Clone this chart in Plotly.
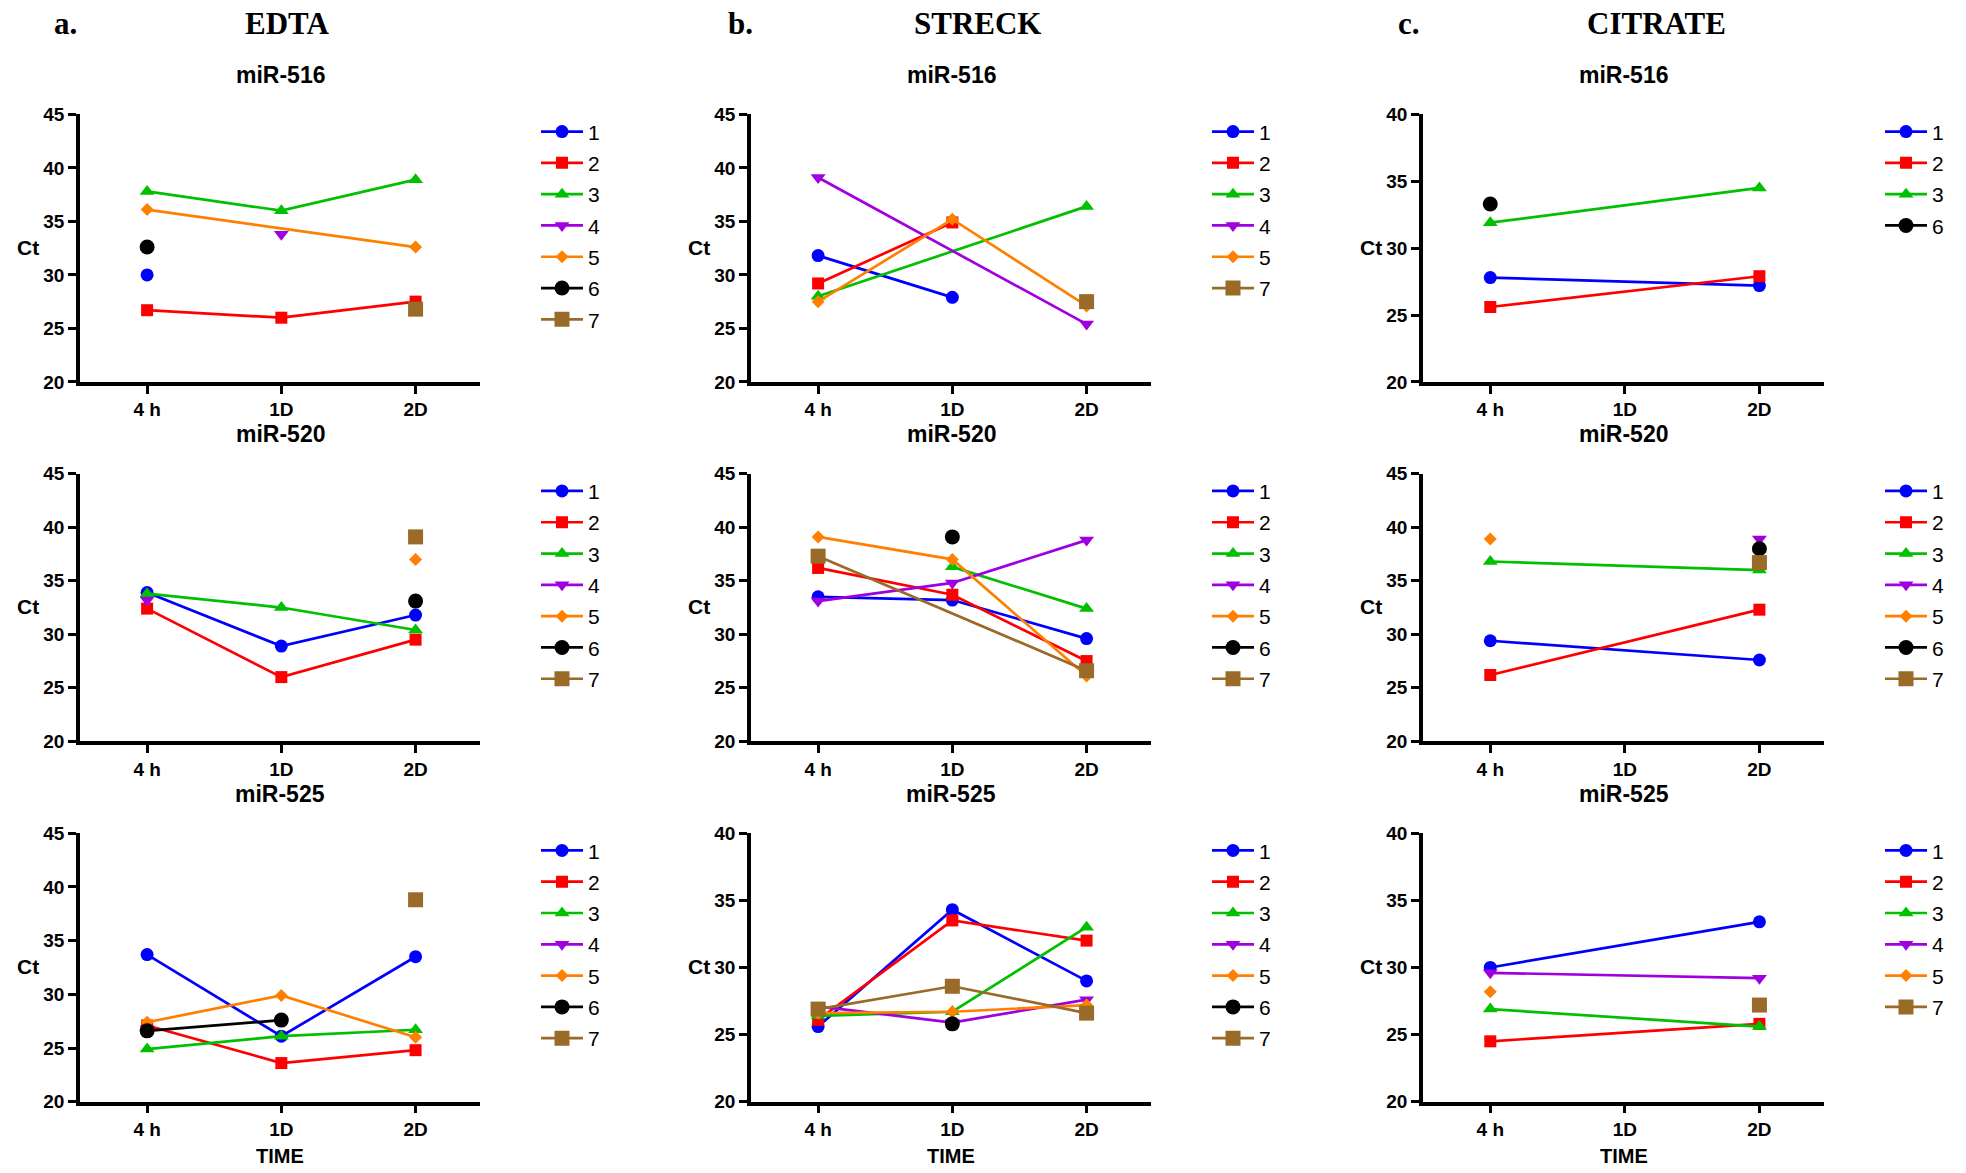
import plotly.graph_objects as go

# ---------------- data ----------------
time_labels = ["4 h", "1D", "2D"]
series_names = ["1", "2", "3", "4", "5", "6", "7"]
panel_groups = ["EDTA", "STRECK", "CITRATE"]
panel_letters = ["a.", "b.", "c."]
mirnas = ["miR-516", "miR-520", "miR-525"]

# EDTA
edta_516 = {"1": [30.0, None, None], "2": [26.7, 26.0, 27.5], "3": [37.8, 36.0, 38.9],
            "4": [None, 33.8, None], "5": [36.1, None, 32.6], "6": [32.6, None, None],
            "7": [None, None, 26.8]}
edta_520 = {"1": [33.9, 28.9, 31.8], "2": [32.4, 26.0, 29.5], "3": [33.8, 32.5, 30.4],
            "4": [33.2, None, None], "5": [None, None, 37.0], "6": [None, None, 33.1],
            "7": [None, None, 39.1]}
edta_525 = {"1": [33.7, 26.1, 33.5], "2": [27.1, 23.6, 24.8], "3": [24.9, 26.1, 26.7],
            "4": [26.8, None, None], "5": [27.4, 29.9, 26.0], "6": [26.6, 27.6, None],
            "7": [None, None, 38.8]}
# STRECK
streck_516 = {"1": [31.8, 27.9, None], "2": [29.2, 34.9, None], "3": [28.0, None, 36.4],
              "4": [39.1, None, 25.4], "5": [27.5, 35.2, 27.1], "7": [None, None, 27.5]}
streck_520 = {"1": [33.5, 33.2, 29.6], "2": [36.2, 33.7, 27.5], "3": [None, 36.3, 32.4],
              "4": [33.1, 34.8, 38.8], "5": [39.1, 37.0, 26.1], "6": [None, 39.1, None],
              "7": [37.3, None, 26.6]}
streck_525 = {"1": [25.6, 34.3, 29.0], "2": [26.1, 33.5, 32.0], "3": [26.4, 26.7, 33.0],
              "4": [27.1, 25.9, 27.6], "5": [26.6, 26.7, 27.2], "6": [None, 25.8, None],
              "7": [26.9, 28.6, 26.6]}
# CITRATE
citrate_516 = {"1": [27.8, None, 27.2], "2": [25.6, None, 27.9], "3": [31.9, None, 34.5],
               "6": [33.3, None, None]}
citrate_520 = {"1": [29.4, None, 27.6], "2": [26.2, None, 32.3], "3": [36.8, None, 36.0],
               "4": [None, None, 38.9], "5": [38.9, None, None], "6": [None, None, 38.0],
               "7": [None, None, 36.7]}
citrate_525 = {"1": [30.0, None, 33.4], "2": [24.5, None, 25.8], "3": [26.9, None, 25.6],
               "4": [29.6, None, 29.2], "5": [28.2, None, None], "7": [None, None, 27.2]}

# panel grid: rows = miRNA, cols = tube type
panels = [[edta_516, streck_516, citrate_516],
          [edta_520, streck_520, citrate_520],
          [edta_525, streck_525, citrate_525]]
y_max = [[45, 45, 40],
         [45, 45, 45],
         [45, 40, 40]]

# ---------------- styles ----------------
colors = {"1": "#0000FF", "2": "#FF0000", "3": "#00C000", "4": "#A000E0",
          "5": "#FF8000", "6": "#000000", "7": "#9A6A28"}
symbols = {"1": "circle", "2": "square", "3": "triangle-up", "4": "triangle-down",
           "5": "diamond", "6": "circle", "7": "square"}
msizes = {"1": 13, "2": 12, "3": 13, "4": 13, "5": 10, "6": 15, "7": 15}

W, H = 1966, 1173


def Y(p):
    # compensate the vertical placement observed in the rendered page
    return (p - 9.48) / 0.9837


col_px = [(80, 480), (751, 1151), (1423, 1824)]
row_px = [(Y(114), Y(382)), (Y(474), Y(742)), (Y(834), Y(1103))]

fig = go.Figure()
layout = dict(width=W, height=H, paper_bgcolor="white", plot_bgcolor="white",
              margin=dict(l=0, r=0, t=0, b=0), showlegend=True)
annotations = []
sans = "Liberation Sans, Arial, sans-serif"
serif = "Liberation Serif, DejaVu Serif, serif"

idx = 0
for r in range(3):
    for c in range(3):
        idx += 1
        sfx = "" if idx == 1 else str(idx)
        xa, ya = "x" + sfx, "y" + sfx
        leg = "legend" + sfx
        x0, x1 = col_px[c]
        y0, y1 = row_px[r]
        xd = [x0 / W, x1 / W]
        yd = [1 - y1 / H, 1 - y0 / H]
        data = panels[r][c]
        for name in series_names:
            if name not in data:
                continue
            fig.add_trace(go.Scatter(
                x=[0, 1, 2], y=data[name], name=name, mode="lines+markers",
                connectgaps=True, xaxis=xa, yaxis=ya, legend=leg,
                legendgroup="p%d_%s" % (idx, name),
                line=dict(color=colors[name], width=2.7),
                marker=dict(color=colors[name], symbol=symbols[name], size=msizes[name]),
                cliponaxis=False))
        layout["xaxis" + sfx] = dict(
            domain=xd, anchor=ya, range=[-0.5, 2.48], tickmode="array",
            tickvals=[0, 1, 2], ticktext=time_labels, showline=True, linecolor="black",
            linewidth=3.5, ticks="outside", ticklen=8, tickwidth=3, tickcolor="black",
            showgrid=False, zeroline=False,
            tickfont=dict(family=sans, size=19, color="black", weight="bold"))
        ym = y_max[r][c]
        layout["yaxis" + sfx] = dict(
            domain=yd, anchor=xa, range=[20, ym], tickmode="linear", tick0=20, dtick=5,
            showline=True, linecolor="black", linewidth=3.5, ticks="outside", ticklen=8,
            tickwidth=3, tickcolor="black", showgrid=False, zeroline=False,
            tickfont=dict(family=sans, size=19, color="black", weight="bold"))
        layout[leg] = dict(x=(x1 + 56) / W, xanchor="left", y=1 - (y0 - 3) / H, yanchor="top",
                           font=dict(family=sans, size=21, color="black"),
                           tracegroupgap=1, itemwidth=42,
                           bgcolor="rgba(0,0,0,0)", itemclick=False)
        # subplot title
        annotations.append(dict(text="<b>" + mirnas[r] + "</b>", x=(x0 + x1) / 2 / W,
                                y=1 - (y0 - 40) / H, xref="paper", yref="paper",
                                showarrow=False, xanchor="center", yanchor="middle",
                                font=dict(family=sans, size=23, color="black")))
        # Ct label
        annotations.append(dict(text="<b>Ct</b>", x=(x0 - 52) / W,
                                y=1 - ((y0 + y1) / 2 - 1) / H, xref="paper", yref="paper",
                                showarrow=False, xanchor="center", yanchor="middle",
                                font=dict(family=sans, size=21, color="black")))
        if r == 2:
            annotations.append(dict(text="<b>TIME</b>", x=(x0 + x1) / 2 / W,
                                    y=1 - Y(1157) / H, xref="paper", yref="paper",
                                    showarrow=False, xanchor="center", yanchor="middle",
                                    font=dict(family=sans, size=20, color="black")))

# column headers
letter_x = [65, 740, 1409]
head_x = [287, 977, 1656]
for c in range(3):
    annotations.append(dict(text="<b>" + panel_letters[c] + "</b>", x=letter_x[c] / W,
                            y=1 - Y(23) / H, xref="paper", yref="paper", showarrow=False,
                            xanchor="center", yanchor="middle",
                            font=dict(family=serif, size=31, color="black")))
    annotations.append(dict(text="<b>" + panel_groups[c] + "</b>", x=head_x[c] / W,
                            y=1 - Y(23) / H, xref="paper", yref="paper", showarrow=False,
                            xanchor="center", yanchor="middle",
                            font=dict(family=serif, size=31, color="black")))

layout["annotations"] = annotations
fig.update_layout(**layout)
fig.write_html("out.html", config={"displayModeBar": False},
               post_script="document.body.style.margin='0';document.body.style.overflow='hidden';")
